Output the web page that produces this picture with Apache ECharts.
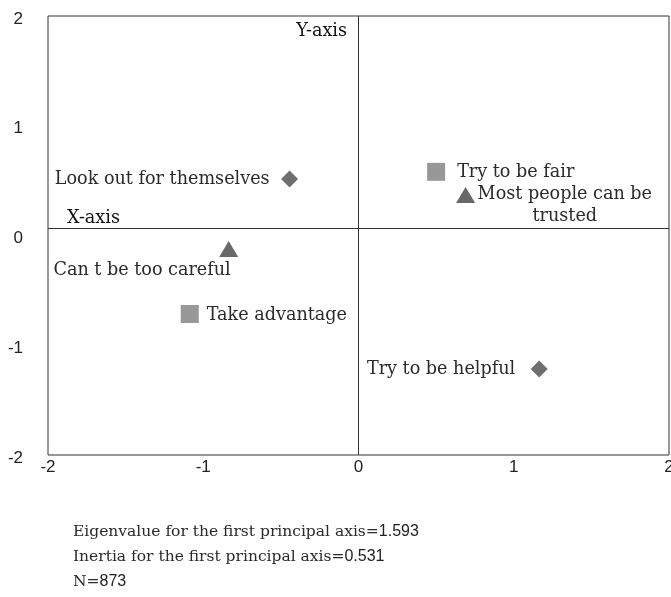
<!DOCTYPE html>
<html>
<head>
<meta charset="utf-8">
<script src="https://cdn.jsdelivr.net/npm/echarts@6/dist/echarts.min.js"></script>
<style>
  html, body { margin: 0; padding: 0; background: #fff; }
  #chart { width: 671px; height: 597px; }
</style>
</head>
<body>
<div id="chart"></div>
<script>
// Correspondence analysis map: three paired response items
const axisTicks = [-2, -1, 0, 1, 2];

// Helpful vs. look out for themselves
const helpfulNames = ['Try to be helpful', 'Look out for themselves'];
const helpfulX = [1.164, -0.444];
const helpfulY = [-1.216, 0.515];

// Fair vs. take advantage
const fairNames = ['Try to be fair', 'Take advantage'];
const fairX = [0.50, -1.087];
const fairY = [0.58, -0.715];

// Trust vs. careful
const trustNames = ['Most people can be\ntrusted', 'Can t be too careful'];
const trustX = [0.69, -0.836];
const trustY = [0.37, -0.123];

// Principal-axis position of the drawn X-axis reference line
const xAxisLineY = 0.075;

const footLines = [
  ['Eigenvalue for the first principal axis=', '1.593'],
  ['Inertia for the first principal axis=', '0.531'],
  ['N=', '873']
];

const SERIF = '"DejaVu Serif", "Liberation Serif", serif';
const SANS = '"Liberation Sans", Arial, sans-serif';
const TEXT = '#2a2a2a';
const LABEL_SIZE = 17.6;

function labelCfg(align, dx, dy, extra) {
  return Object.assign({
    show: true,
    position: 'inside',
    align: align,
    verticalAlign: 'middle',
    offset: [dx, dy],
    color: TEXT,
    textBorderWidth: 0,
    fontFamily: SERIF,
    fontSize: LABEL_SIZE,
    formatter: '{b}'
  }, extra || {});
}

function build(names, xs, ys, labels) {
  return names.map((n, i) => ({
    name: n,
    value: [xs[i], ys[i]],
    label: labels[i]
  }));
}

const chart = echarts.init(document.getElementById('chart'));

const option = {
  animation: false,
  backgroundColor: '#fff',
  grid: {
    left: 48, right: 2, top: 16, bottom: 142,
    outerBoundsMode: 'none',
    containLabel: false,
    show: true, borderColor: '#333', borderWidth: 1, backgroundColor: 'transparent'
  },
  xAxis: {
    type: 'value', min: -2, max: 2, interval: 1,
    axisLine: { show: false },
    axisTick: { show: false },
    splitLine: { show: false },
    axisLabel: { color: '#222', fontFamily: SANS, fontSize: 17, margin: 4,
      formatter: v => axisTicks.includes(v) ? String(v) : '' }
  },
  yAxis: {
    type: 'value', min: -2, max: 2, interval: 1,
    axisLine: { show: false },
    axisTick: { show: false },
    splitLine: { show: false },
    axisLabel: { color: '#222', fontFamily: SANS, fontSize: 17, margin: 25,
      verticalAlign: 'top', lineHeight: 6,
      formatter: v => axisTicks.includes(v) ? String(v) : '' }
  },
  series: [
    {
      type: 'scatter',
      symbol: 'diamond',
      symbolSize: [17, 17],
      itemStyle: { color: '#6e6e6e', opacity: 1 },
      data: build(helpfulNames, helpfulX, helpfulY, [
        labelCfg('right', -24, 0),
        labelCfg('right', -20, 0)
      ]),
      markLine: {
        silent: true,
        symbol: 'none',
        label: { show: false },
        lineStyle: { color: '#333', width: 1, type: 'solid' },
        data: [
          { xAxis: 0 },
          { yAxis: xAxisLineY }
        ]
      }
    },
    {
      type: 'scatter',
      symbol: 'rect',
      symbolSize: [18, 18],
      itemStyle: { color: '#989898', opacity: 1 },
      data: build(fairNames, fairX, fairY, [
        labelCfg('left', 21, 1),
        labelCfg('left', 17, 1)
      ])
    },
    {
      type: 'scatter',
      symbol: 'triangle',
      symbolSize: [19, 16],
      itemStyle: { color: '#686868', opacity: 1 },
      data: build(trustNames, trustX, trustY, [
        labelCfg('left', 12, 11, {
          formatter: p => p.name.split('\n').map(s => '{c|' + s + '}').join('\n'),
          rich: { c: { align: 'center', fontFamily: SERIF, fontSize: LABEL_SIZE, color: TEXT, lineHeight: 22 } }
        }),
        labelCfg('right', 2, 21)
      ])
    }
  ],
  graphic: [
    { type: 'text', left: 67, top: 209,
      style: { text: 'X-axis', fontFamily: SERIF, fontSize: LABEL_SIZE, fill: '#111' } },
    { type: 'text', right: 671 - 347, top: 22,
      style: { text: 'Y-axis', fontFamily: SERIF, fontSize: LABEL_SIZE, fill: '#111' } }
  ].concat(footLines.map((ln, i) => ({
    type: 'text', left: 73, top: 524 + i * 25,
    style: {
      text: '{s|' + ln[0] + '}{n|' + ln[1] + '}',
      rich: {
        s: { fontFamily: SERIF, fontSize: 15.5, fill: TEXT },
        n: { fontFamily: SANS, fontSize: 16, fill: '#222' }
      }
    }
  })))
};

chart.setOption(option);
</script>
</body>
</html>
